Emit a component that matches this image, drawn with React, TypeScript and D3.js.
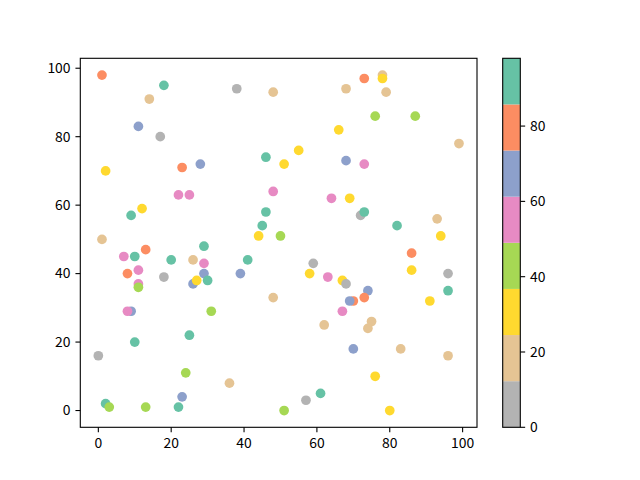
import React from "react";
import * as d3 from "d3";

const xs = [1,18,14,38,48,11,17,46,2,23,28,22,25,48,12,9,46,45,44,50,1,68,73,78,78,79,76,87,66,99,55,51,68,73,64,69,72,73,82,93,94,13,7,10,20,26,29,29,41,8,11,18,29,26,27,30,39,11,11,48,9,8,31,25,10,0,24,36,23,2,3,13,22,86,59,58,63,67,68,86,96,74,73,70,69,96,91,67,62,75,74,70,83,96,76,61,57,51,80];
const ys = [98,95,91,94,93,83,80,74,70,71,72,63,63,64,59,57,58,54,51,51,50,94,97,98,97,93,86,86,82,78,76,72,73,72,62,62,57,58,54,56,51,47,45,45,44,44,43,48,44,40,41,39,40,37,38,38,40,37,36,33,29,29,29,22,20,16,11,8,4,2,1,1,1,46,43,40,39,38,37,41,40,35,33,32,32,35,32,29,25,26,24,18,18,16,10,5,3,0,0];
const cs = [80,92,18,6,18,67,6,92,30,80,67,55,55,55,30,92,92,92,30,43,18,18,80,18,30,18,43,43,30,18,30,30,67,55,55,30,6,92,92,18,30,80,55,92,92,18,55,92,92,80,55,6,67,67,30,92,67,55,43,18,67,55,43,92,92,6,43,18,67,92,43,43,92,80,6,30,55,30,6,30,6,67,80,80,67,92,30,55,18,18,18,67,18,18,30,92,6,43,30];

const cmapColors = ["#b3b3b3","#e5c494","#ffd92f","#a6d854","#e78ac3","#8da0cb","#fc8d62","#66c2a5"];
const cMax = 98;
const xTicks = [0,20,40,60,80,100];
const yTicks = [0,20,40,60,80,100];
const cTicks = [0,20,40,60,80];

export default function App() {
  const W = 640, H = 480;
  const L = 80.3, R = 477, T = 58.3, B = 427.3;
  const x = d3.scaleLinear().domain([-4.95, 103.95]).range([L, R]);
  const y = d3.scaleLinear().domain([-4.9, 102.9]).range([B, T]);
  const cb = { l: 502.7, r: 520.3 };
  const cy = d3.scaleLinear().domain([0, cMax]).range([B, T]);
  const color = d3.scaleQuantize<string>().domain([0, cMax]).range(cmapColors);
  const bins = d3.range(cmapColors.length).map(i => [i * cMax / 8, (i + 1) * cMax / 8]);
  const font = "'Noto Sans CJK SC', 'Liberation Sans', sans-serif";
  const fs = 13.9;
  const tl = 4.86;
  return (
    <svg width={W} height={H} style={{ position: "absolute", left: 0, top: 0 }} fontFamily={font}>
      <rect width={W} height={H} fill="white" />
      {xs.map((v, i) => (
        <circle key={i} cx={x(v)} cy={y(ys[i])} r={4.86} fill={color(cs[i])} />
      ))}
      <rect x={L} y={T} width={R - L} height={B - T} fill="none" stroke="black" strokeWidth={1.1} />
      {xTicks.map(t => (
        <g key={"x" + t}>
          <line x1={x(t)} x2={x(t)} y1={B} y2={B + tl} stroke="black" strokeWidth={1.1} />
          <text x={x(t)} y={B + tl + 4.9} dy="0.76em" textAnchor="middle" fontSize={fs}>{t}</text>
        </g>
      ))}
      {yTicks.map(t => (
        <g key={"y" + t}>
          <line x1={L - tl} x2={L} y1={y(t)} y2={y(t)} stroke="black" strokeWidth={1.1} />
          <text x={L - tl - 4.9} y={y(t)} dy="0.35em" textAnchor="end" fontSize={fs}>{t}</text>
        </g>
      ))}
      {bins.map((b, i) => (
        <rect key={"b" + i} x={cb.l} y={cy(b[1])} width={cb.r - cb.l} height={cy(b[0]) - cy(b[1])} fill={cmapColors[i]} />
      ))}
      <rect x={cb.l} y={T} width={cb.r - cb.l} height={B - T} fill="none" stroke="black" strokeWidth={1.1} />
      {cTicks.map(t => (
        <g key={"c" + t}>
          <line x1={cb.r} x2={cb.r + tl} y1={cy(t)} y2={cy(t)} stroke="black" strokeWidth={1.1} />
          <text x={cb.r + tl + 4.9} y={cy(t)} dy="0.35em" textAnchor="start" fontSize={fs}>{t}</text>
        </g>
      ))}
    </svg>
  );
}
